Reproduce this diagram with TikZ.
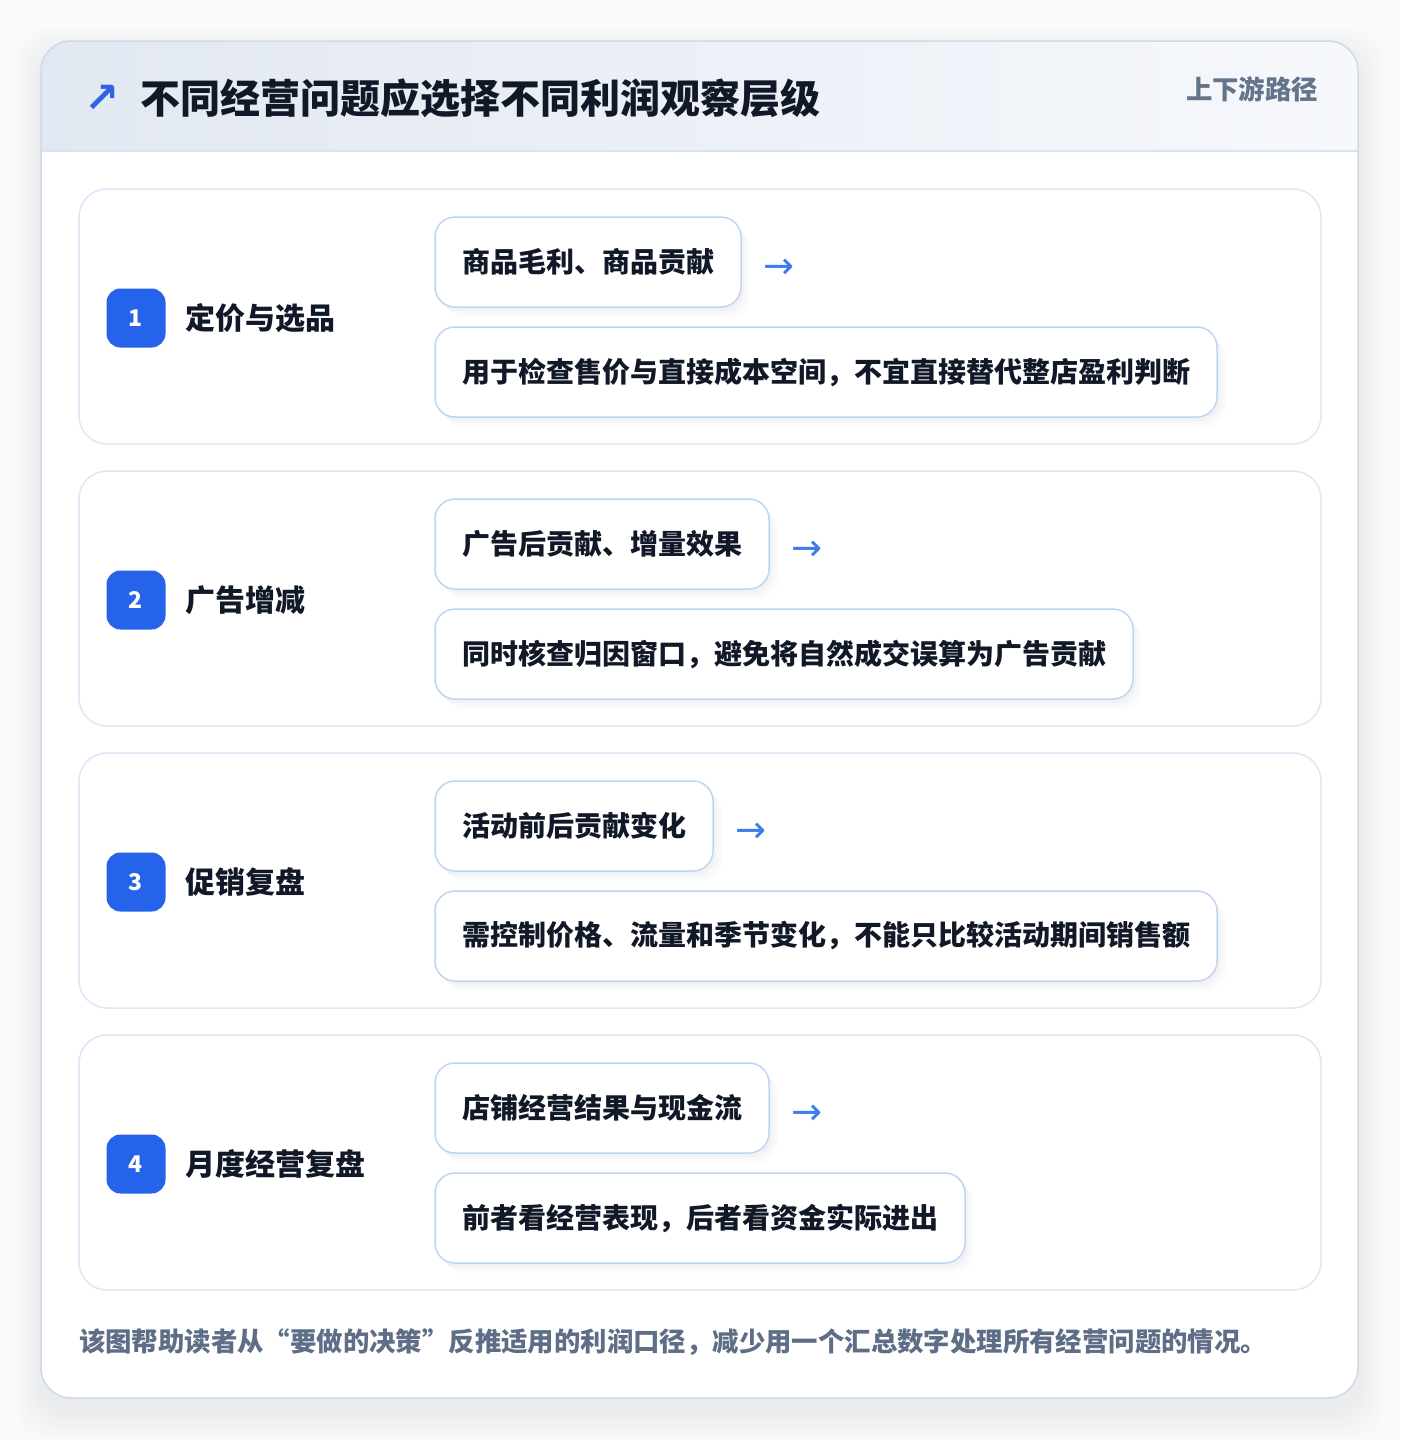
\documentclass[tikz,border=0pt]{standalone}
\usepackage{fontspec}
\setmainfont{Noto Sans CJK SC}
\newfontfamily\symfont{DejaVu Sans}
\usetikzlibrary{shadows}
\definecolor{bgc}{HTML}{F9FAFB}
\definecolor{titlec}{HTML}{111827}
\definecolor{subc}{HTML}{64748B}
\definecolor{footc}{HTML}{5E6E86}
\definecolor{badgec}{HTML}{2563EB}
\definecolor{arrc}{HTML}{3B7EEA}
\definecolor{tarrc}{HTML}{2F64E0}
\definecolor{cardb}{HTML}{D0D9E6}
\definecolor{hdrL}{HTML}{E2E8F1}
\definecolor{hdrR}{HTML}{F6F8FC}
\definecolor{hdrline}{HTML}{D6E4F5}
\definecolor{secb}{HTML}{DCE7F7}
\definecolor{boxb}{HTML}{BFD5F5}
\tikzset{
  secbox/.style={draw=secb, line width=1.5pt, fill=white, rounded corners=28pt},
  badge/.style={fill=badgec, rounded corners=14pt, minimum width=59pt, minimum height=59pt, text=white, font=\bfseries\fontsize{23}{26}\selectfont},
  seclabel/.style={anchor=west, text=titlec, font=\bfseries\fontsize{30}{34}\selectfont},
  infobox/.style={anchor=west, draw=boxb, line width=1.5pt, fill=white, rounded corners=20pt, minimum height=90pt, inner xsep=27pt, inner ysep=0pt, text=titlec, font=\bfseries\fontsize{28}{32}\selectfont,
    drop shadow={shadow xshift=3pt, shadow yshift=-4pt, opacity=0.022, fill=black},
    drop shadow={shadow xshift=6pt, shadow yshift=-7pt, opacity=0.015, fill=black},
    drop shadow={shadow xshift=9pt, shadow yshift=-10pt, opacity=0.01, fill=black}},
  arrowtxt/.style={anchor=west, text=arrc, font=\symfont\fontsize{37}{40}\selectfont},
}
\begin{document}
\begin{tikzpicture}[x=1pt, y=-1pt, every node/.append style={inner sep=0pt, outer sep=0pt}]
\useasboundingbox (0,0) rectangle (1400,1440);
\fill[bgc] (0,0) rectangle (1400,1440);
% card shadow
\foreach \s in {2,4,...,28} {
  \fill[black, opacity=0.0055, rounded corners=34pt] (41-\s,41-\s+14) rectangle (1358+\s,1398+\s+14);
}
% card
\node[fill=white, rounded corners=30pt, minimum width=1317pt, minimum height=1357pt] (card) at (699.5,719.5) {};
\begin{scope}
  \clip[rounded corners=30pt] (41,41) rectangle (1358,1398);
  \shade[left color=hdrL, right color=hdrR] (41,41) rectangle (1358,151);
\end{scope}
\draw[hdrline, line width=1.5pt] (41,151) -- (1358,151);
\draw[cardb, line width=1.5pt, rounded corners=30pt] (41,41) rectangle (1358,1398);
% header texts
\node[anchor=center, text=tarrc, font=\symfont\bfseries\fontsize{42}{46}\selectfont] (tarrow) at (102,99) {↗};
\node[anchor=west, text=titlec, font=\bfseries\fontsize{40}{46}\selectfont] (title) at (140,98) {不同经营问题应选择不同利润观察层级};
\node[anchor=east, text=subc, font=\bfseries\fontsize{26.4}{30}\selectfont] (sub) at (1318,89) {上下游路径};
% sections
\foreach \i/\lab/\ta/\tb in {
  1/{定价与选品}/{商品毛利、商品贡献}/{用于检查售价与直接成本空间，不宜直接替代整店盈利判断},
  2/{广告增减}/{广告后贡献、增量效果}/{同时核查归因窗口，避免将自然成交误算为广告贡献},
  3/{促销复盘}/{活动前后贡献变化}/{需控制价格、流量和季节变化，不能只比较活动期间销售额},
  4/{月度经营复盘}/{店铺经营结果与现金流}/{前者看经营表现，后者看资金实际进出}} {
  \pgfmathsetmacro{\top}{189+(\i-1)*282}
  \node[secbox, minimum width=1242pt, minimum height=255pt] (sec\i) at (700,\top+127.5) {};
  \node[badge] (badge\i) at (136,\top+129) {\i};
  \node[seclabel] (lab\i) at (185,\top+129) {\lab};
  \node[infobox] (top\i) at (435,\top+73) {\ta};
  \node[arrowtxt] (arr\i) at ([xshift=22pt, yshift=-7pt]top\i.east) {→};
  \node[infobox] (bot\i) at (435,\top+183) {\tb};
}
% footer
\node[anchor=west, text=footc, font=\bfseries\fontsize{26.4}{30}\selectfont] (foot) at (79,1342) {该图帮助读者从“要做的决策”反推适用的利润口径，减少用一个汇总数字处理所有经营问题的情况。};
\end{tikzpicture}
\end{document}
